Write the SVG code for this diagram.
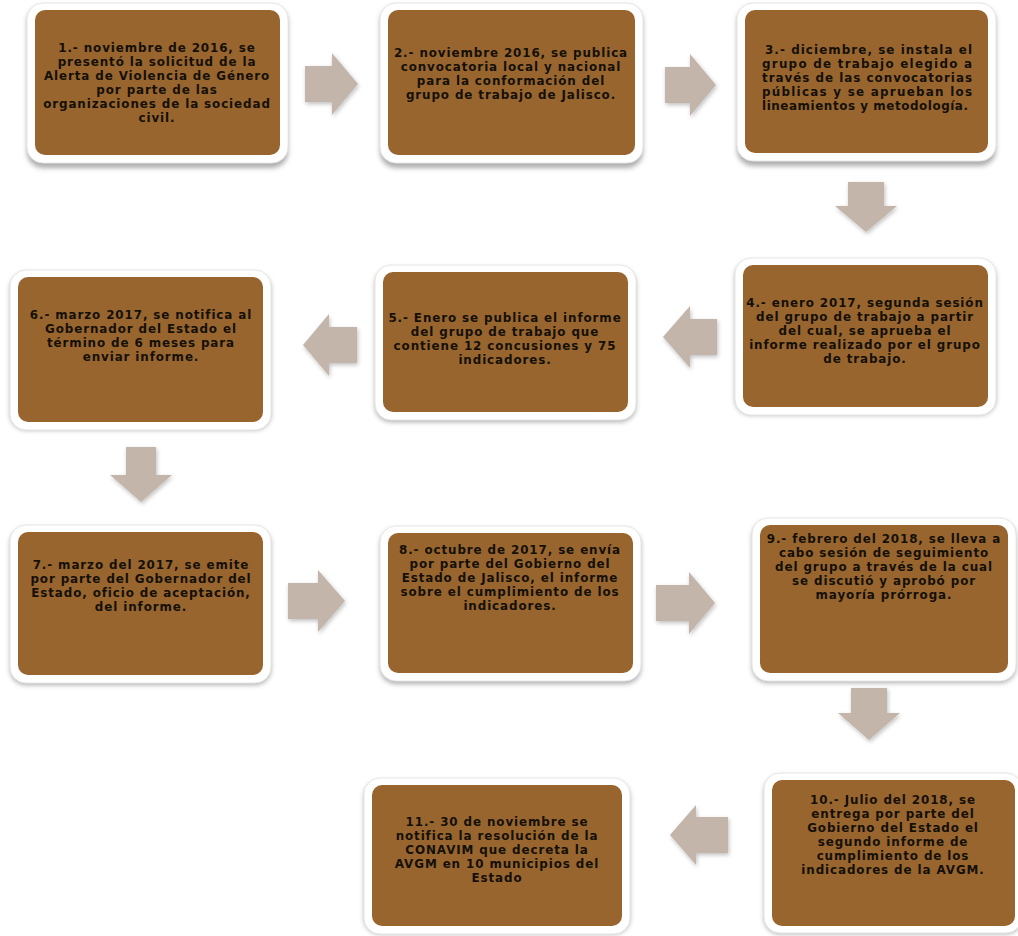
<svg xmlns="http://www.w3.org/2000/svg" width="1018" height="936" viewBox="0 0 1018 936">
<defs>
<filter id="sh" x="-10%" y="-10%" width="120%" height="130%">
<feGaussianBlur stdDeviation="2.5"/>
</filter>
<filter id="ash" x="-20%" y="-20%" width="140%" height="140%">
<feGaussianBlur in="SourceAlpha" stdDeviation="2"/>
<feOffset dx="1" dy="2" result="b"/>
<feFlood flood-color="#000" flood-opacity="0.25"/>
<feComposite in2="b" operator="in"/>
<feMerge><feMergeNode/><feMergeNode in="SourceGraphic"/></feMerge>
</filter>
</defs>
<style>
.shadow{fill:#9a9a9a;filter:url(#sh);opacity:0.8}
.frame{fill:#ffffff;stroke:#e6e6e6;stroke-width:1}
.box{fill:#98652f}
.t{font-family:"DejaVu Sans",sans-serif;font-weight:bold;font-size:11.9px;letter-spacing:0.9px;fill:#141008;text-anchor:middle}
.j{text-anchor:start;letter-spacing:0}
.arrow{fill:#c3b5aa;filter:url(#ash)}
</style>
<rect width="1018" height="936" fill="#ffffff"/>

<g id="connectors">
<polygon class="arrow" points="305,66 332,66 332,53 358,84 332,115 332,102 305,102"/>
<polygon class="arrow" points="665,67 690,67 690,54 716,85 690,116 690,103 665,103"/>
<polygon class="arrow" points="848,182 884,182 884,206 897,206 866,232 835,206 848,206"/>
<polygon class="arrow" points="717,319 690,319 690,306 663,337 690,368 690,355 717,355"/>
<polygon class="arrow" points="357,327 329,327 329,314 303,345 329,376 329,363 357,363"/>
<polygon class="arrow" points="126,447 156,447 156,475 172,475 141,502 110,475 126,475"/>
<polygon class="arrow" points="288,583 318,583 318,570 345,601 318,632 318,619 288,619"/>
<polygon class="arrow" points="656,585 689,585 689,572 715,603 689,634 689,621 656,621"/>
<polygon class="arrow" points="851,688 887,688 887,713 900,713 869,740 838,713 851,713"/>
<polygon class="arrow" points="728,817 696,817 696,805 670,835 696,865 696,853 728,853"/>
</g>

<g id="node1">
<rect class="shadow" x="27" y="6" width="261" height="162" rx="16"/>
<rect class="frame" x="27" y="3" width="261" height="160" rx="16"/>
<rect class="box" x="35" y="10" width="245" height="145" rx="10"/>
<text class="t" x="157" y="52">1.- noviembre de 2016, se</text>
<text class="t" x="157" y="66">presentó la solicitud de la</text>
<text class="t" x="157" y="80">Alerta de Violencia de Género</text>
<text class="t" x="157" y="94">por parte de las</text>
<text class="t" x="157" y="108">organizaciones de la sociedad</text>
<text class="t" x="157" y="122">civil.</text>
</g>

<g id="node2">
<rect class="shadow" x="380" y="6" width="263" height="162" rx="16"/>
<rect class="frame" x="380" y="3" width="263" height="160" rx="16"/>
<rect class="box" x="388" y="10" width="247" height="145" rx="10"/>
<text class="t" x="511" y="57">2.- noviembre 2016, se publica</text>
<text class="t" x="511" y="71">convocatoria local y nacional</text>
<text class="t" x="511" y="85">para la conformación del</text>
<text class="t" x="511" y="99">grupo de trabajo de Jalisco.</text>
</g>

<g id="node3">
<rect class="shadow" x="737" y="6" width="259" height="160" rx="16"/>
<rect class="frame" x="737" y="3" width="259" height="158" rx="16"/>
<rect class="box" x="745" y="10" width="243" height="143" rx="10"/>
<text class="t j" x="765" y="54" textLength="207" lengthAdjust="spacing">3.- diciembre, se instala el</text>
<text class="t j" x="762" y="68" textLength="210" lengthAdjust="spacing">grupo de trabajo elegido a</text>
<text class="t j" x="762" y="82" textLength="210" lengthAdjust="spacing">través de las convocatorias</text>
<text class="t j" x="762" y="96" textLength="210" lengthAdjust="spacing">públicas y se aprueban los</text>
<text class="t j" x="762" y="110" textLength="206" lengthAdjust="spacing">lineamientos y metodología.</text>
</g>

<g id="node4">
<rect class="shadow" x="735" y="261" width="261" height="154" rx="16"/>
<rect class="frame" x="735" y="258" width="261" height="157" rx="16"/>
<rect class="box" x="743" y="265" width="245" height="142" rx="10"/>
<text class="t" x="865" y="307">4.- enero 2017, segunda sesión</text>
<text class="t" x="865" y="321">del grupo de trabajo a partir</text>
<text class="t" x="865" y="335">del cual, se aprueba el</text>
<text class="t" x="865" y="349">informe realizado por el grupo</text>
<text class="t" x="865" y="363">de trabajo.</text>
</g>

<g id="node5">
<rect class="shadow" x="375" y="268" width="261" height="154" rx="16"/>
<rect class="frame" x="375" y="265" width="261" height="155" rx="16"/>
<rect class="box" x="383" y="272" width="245" height="140" rx="10"/>
<text class="t" x="505" y="322">5.- Enero se publica el informe</text>
<text class="t" x="505" y="336">del grupo de trabajo que</text>
<text class="t" x="505" y="350">contiene 12 concusiones y 75</text>
<text class="t" x="505" y="364">indicadores.</text>
</g>

<g id="node6">
<rect class="shadow" x="10" y="273" width="261" height="157" rx="16"/>
<rect class="frame" x="10" y="270" width="261" height="160" rx="16"/>
<rect class="box" x="18" y="277" width="245" height="145" rx="10"/>
<text class="t" x="141" y="319">6.- marzo 2017, se notifica al</text>
<text class="t" x="141" y="333">Gobernador del Estado el</text>
<text class="t" x="141" y="347">término de 6 meses para</text>
<text class="t" x="141" y="361">enviar informe.</text>
</g>

<g id="node7">
<rect class="shadow" x="10" y="528" width="261" height="157" rx="16"/>
<rect class="frame" x="10" y="525" width="261" height="158" rx="16"/>
<rect class="box" x="18" y="532" width="245" height="143" rx="10"/>
<text class="t" x="141" y="569">7.- marzo del 2017, se emite</text>
<text class="t" x="141" y="583">por parte del Gobernador del</text>
<text class="t" x="141" y="597">Estado, oficio de aceptación,</text>
<text class="t" x="141" y="611">del informe.</text>
</g>

<g id="node8">
<rect class="shadow" x="380" y="529" width="261" height="155" rx="16"/>
<rect class="frame" x="380" y="526" width="261" height="155" rx="16"/>
<rect class="box" x="388" y="533" width="245" height="140" rx="10"/>
<text class="t" x="510" y="554">8.- octubre de 2017, se envía</text>
<text class="t" x="510" y="568">por parte del Gobierno del</text>
<text class="t" x="510" y="582">Estado de Jalisco, el informe</text>
<text class="t" x="510" y="596">sobre el cumplimiento de los</text>
<text class="t" x="510" y="610">indicadores.</text>
</g>

<g id="node9">
<rect class="shadow" x="752" y="521" width="264" height="162" rx="16"/>
<rect class="frame" x="752" y="518" width="264" height="163" rx="16"/>
<rect class="box" x="760" y="525" width="248" height="148" rx="10"/>
<text class="t" x="884" y="543">9.- febrero del 2018, se lleva a</text>
<text class="t" x="884" y="557">cabo sesión de seguimiento</text>
<text class="t" x="884" y="571">del grupo a través de la cual</text>
<text class="t" x="884" y="585">se discutió y aprobó por</text>
<text class="t" x="884" y="599">mayoría prórroga.</text>
</g>

<g id="node10">
<rect class="shadow" x="764" y="776" width="258" height="158" rx="16"/>
<rect class="frame" x="764" y="773" width="258" height="160" rx="16"/>
<rect class="box" x="772" y="780" width="243" height="146" rx="10"/>
<text class="t" x="893" y="804">10.- Julio del 2018, se</text>
<text class="t" x="893" y="818">entrega por parte del</text>
<text class="t" x="893" y="832">Gobierno del Estado el</text>
<text class="t" x="893" y="846">segundo informe de</text>
<text class="t" x="893" y="860">cumplimiento de los</text>
<text class="t" x="893" y="874">indicadores de la AVGM.</text>
</g>

<g id="node11">
<rect class="shadow" x="364" y="781" width="266" height="153" rx="16"/>
<rect class="frame" x="364" y="778" width="266" height="156" rx="16"/>
<rect class="box" x="372" y="785" width="250" height="141" rx="10"/>
<text class="t" x="497" y="826">11.- 30 de noviembre se</text>
<text class="t" x="497" y="840">notifica la resolución de la</text>
<text class="t" x="497" y="854">CONAVIM que decreta la</text>
<text class="t" x="497" y="868">AVGM en 10 municipios del</text>
<text class="t" x="497" y="882">Estado</text>
</g>
</svg>
